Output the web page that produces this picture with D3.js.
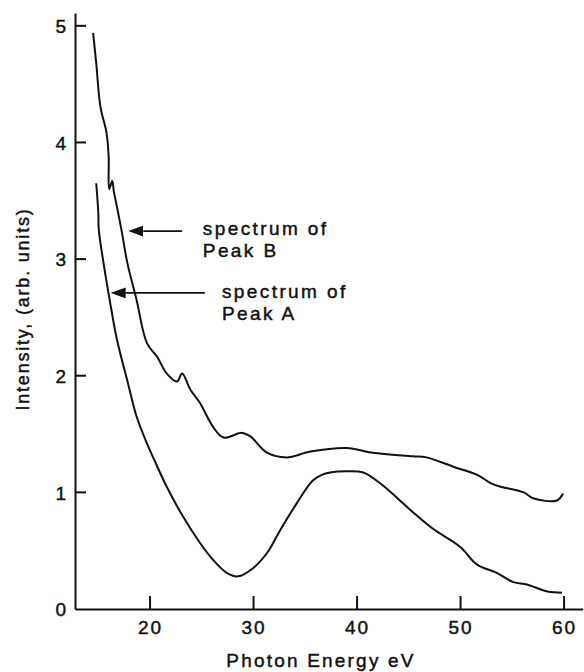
<!DOCTYPE html>
<html>
<head>
<meta charset="utf-8">
<script src="https://d3js.org/d3.v7.min.js"></script>
<style>
  body { margin: 0; background: #fff; }
  text { font-family: "Liberation Sans", Arial, sans-serif; fill: #111; stroke: #111; stroke-width: 0.45px; }
  .axis path { stroke: #111; stroke-width: 2; }
  .axis text { font-size: 19px; letter-spacing: 2px; }
  .line { fill: none; stroke: #111; stroke-width: 2; stroke-linejoin: round; }
</style>
</head>
<body>
<script>
var svg = d3.select("body").append("svg")
      .attr("width", 584)
      .attr("height", 672)

// photon energy (eV) and intensity
var energyB = [14.5, 14.8, 15.2, 15.8, 16.0, 16.05, 16.35, 16.5, 16.8, 17.3, 17.8, 18.7, 19.7, 20.7, 21.6, 22.6, 23.1, 23.9, 24.8, 26.1, 27.1, 28.9, 29.7, 31.3, 33.2, 35.5, 39.0, 41.5, 45.4, 46.7, 49.3, 51.6, 52.9, 53.8, 56.1, 57.0, 59.3, 59.9];
var peakB   = [4.94, 4.68, 4.31, 4.08, 3.88, 3.60, 3.67, 3.58, 3.45, 3.22, 2.97, 2.65, 2.28, 2.16, 2.02, 1.95, 2.02, 1.88, 1.77, 1.56, 1.47, 1.51, 1.48, 1.34, 1.30, 1.35, 1.38, 1.34, 1.31, 1.30, 1.22, 1.15, 1.08, 1.05, 1.00, 0.95, 0.93, 0.99];

var energyA = [14.8, 15.0, 15.05, 15.5, 16.1, 16.8, 17.8, 18.7, 19.7, 20.4, 21.6, 23.2, 24.8, 26.1, 27.4, 28.5, 29.95, 31.3, 32.6, 34.2, 35.7, 36.6, 37.4, 39.0, 40.6, 42.2, 43.9, 45.4, 47.3, 50.0, 51.6, 53.5, 55.1, 56.4, 58.4, 59.8];
var peakA   = [3.65, 3.40, 3.25, 2.97, 2.65, 2.31, 1.96, 1.65, 1.42, 1.28, 1.05, 0.79, 0.57, 0.42, 0.31, 0.28, 0.35, 0.48, 0.68, 0.91, 1.10, 1.15, 1.17, 1.18, 1.17, 1.08, 0.95, 0.83, 0.69, 0.53, 0.38, 0.31, 0.23, 0.21, 0.15, 0.14];

var xTicks = [20, 30, 40, 50, 60];
var yTicks = [0, 1, 2, 3, 4, 5];

// annotations: arrow tip / tail energy at intensity y, label position tx, ty
var labelB = {tip: 17.9, tail: 23.1, y: 3.24, tx: 25.1, ty: 3.21, lines: ["spectrum of", "Peak B"]};
var labelA = {tip: 16.2, tail: 25.3, y: 2.71, tx: 26.95, ty: 2.67, lines: ["spectrum of", "Peak A"]};

var x = d3.scaleLinear()
	.domain([12.75, 61.8])
	.range([75, 582.7]);

var y = d3.scaleLinear()
	.domain([0, 5.11])
	.range([609, 13]);

var g = svg.append("g");

// arrow head (points right, turned round by the line direction)
svg.append("defs").append("marker")
    .attr("id", "arrow")
    .attr("viewBox", "0 0 15 11")
    .attr("refX", 0)
    .attr("refY", 5.5)
    .attr("markerWidth", 15)
    .attr("markerHeight", 11)
    .attr("markerUnits", "userSpaceOnUse")
    .attr("orient", "auto")
  .append("path")
    .attr("d", "M0,0L15,5.5L0,11Z")
    .attr("fill", "#111");

  // Add the X Axis
  g.append("g")
  .attr("class", "axis")
  .attr("transform", "translate(0," + y(0) + ")")
  .call(d3.axisBottom(x).tickValues(xTicks).tickSize(0).tickPadding(11))
  .call(function(a) { a.selectAll("text").attr("dy", "0.74em"); });

  // Add the Y Axis
  g.append("g")
  .attr("class", "axis")
  .attr("transform", "translate(" + x(12.75) + ",0)")
  .call(d3.axisLeft(y).tickValues(yTicks).tickFormat(d3.format("d")).tickSize(0).tickPadding(7))
  .call(function(a) { a.selectAll("text").attr("dy", "0.36em"); });

// inward tick marks
g.selectAll(".xtick")
  .data(xTicks)
  .enter().append("path")
    .attr("d", function(d) { return "M" + x(d) + "," + y(0) + "V" + (y(0) - 13); })
    .attr("fill", "none")
    .attr("stroke", "#111")
    .attr("stroke-width", 2);

g.selectAll(".ytick")
  .data(yTicks.slice(1))
  .enter().append("path")
    .attr("d", function(d) { return "M" + x(12.75) + "," + y(d) + "H" + (x(12.75) + 11); })
    .attr("fill", "none")
    .attr("stroke", "#111")
    .attr("stroke-width", 2);

var line = d3.line()
    .curve(d3.curveCatmullRom.alpha(0.5))
    .x(function(d) { return x(d[0]); })
    .y(function(d) { return y(d[1]); });

g.append("path")
    .datum(d3.zip(energyB, peakB))
    .attr("class", "line")
    .attr("d", line);

g.append("path")
    .datum(d3.zip(energyA, peakA))
    .attr("class", "line")
    .attr("d", line);

[labelB, labelA].forEach(function(l) {
  g.append("line")
    .attr("x1", x(l.tail)).attr("y1", y(l.y))
    .attr("x2", x(l.tip) + 15).attr("y2", y(l.y))
    .attr("stroke", "#111")
    .attr("stroke-width", 1.6)
    .attr("marker-end", "url(#arrow)");
  var t = g.append("text")
    .attr("x", x(l.tx))
    .attr("y", y(l.ty))
    .style("font-size", "19px")
    .style("letter-spacing", "2.4px");
  l.lines.forEach(function(s, i) {
    t.append("tspan").attr("x", x(l.tx)).attr("dy", i ? 22 : 0).text(s);
  });
});

svg.append("text")
    .attr("x", 321)
    .attr("y", 667)
    .attr("text-anchor", "middle")
    .style("font-size", "19px")
    .style("letter-spacing", "2.2px")
    .text("Photon Energy eV");

svg.append("text")
    .attr("transform", "translate(29,309) rotate(-90)")
    .attr("text-anchor", "middle")
    .style("font-size", "18px")
    .style("letter-spacing", "1.8px")
    .text("Intensity, (arb. units)");
</script>
</body>
</html>
